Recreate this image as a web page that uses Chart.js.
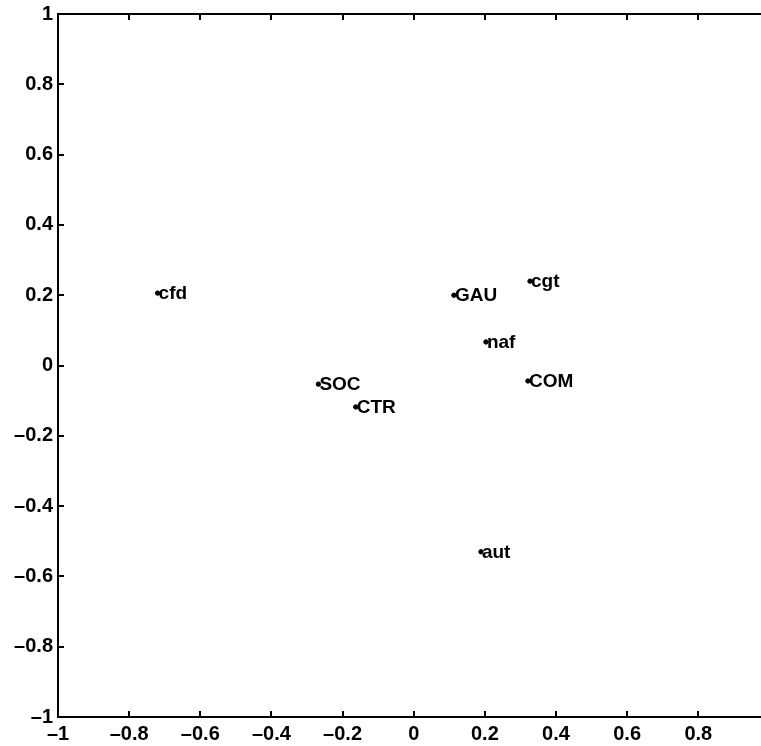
<!DOCTYPE html>
<html>
<head>
<meta charset="utf-8">
<script src="https://cdn.jsdelivr.net/npm/chart.js@4/dist/chart.umd.min.js"></script>
<style>
  html, body { margin: 0; padding: 0; background: #fff; overflow: hidden; }
  #wrap { width: 780px; height: 746px; }
</style>
</head>
<body>
<div id="wrap"><canvas id="myChart" width="780" height="746"></canvas></div>
<script>
// point labels and coordinates
var names = ['cfd', 'SOC', 'CTR', 'GAU', 'cgt', 'naf', 'COM', 'aut'];
var xs = [-0.72, -0.268, -0.163, 0.113, 0.327, 0.203, 0.321, 0.189];
var ys = [0.206, -0.053, -0.118, 0.200, 0.240, 0.067, -0.044, -0.530];

// tick values and their labels (same on both axes)
var tickVals = [-1, -0.8, -0.6, -0.4, -0.2, 0, 0.2, 0.4, 0.6, 0.8, 1];
var tickLabels = ['\u20131', '\u20130.8', '\u20130.6', '\u20130.4', '\u20130.2', '0', '0.2', '0.4', '0.6', '0.8', '1'];

var points = [];
for (var i = 0; i < names.length; i++) {
  points.push({ x: xs[i], y: ys[i] });
}

var tickFont = { family: '"Liberation Sans", Arial, sans-serif', size: 20, weight: 'bold' };

// box round the plot with inward ticks on all sides, like matlab
var boxPlugin = {
  id: 'box',
  afterDraw: function (chart) {
    var c = chart.ctx;
    var a = chart.chartArea;
    var xS = chart.scales.x, yS = chart.scales.y;
    c.save();
    c.strokeStyle = '#000';
    c.lineWidth = 2;
    c.strokeRect(a.left, a.top, a.right - a.left, a.bottom - a.top);
    tickVals.forEach(function (v) {
      var px = Math.round(xS.getPixelForValue(v));
      c.beginPath();
      c.moveTo(px, a.bottom); c.lineTo(px, a.bottom - 6);
      c.moveTo(px, a.top); c.lineTo(px, a.top + 6);
      c.stroke();
      var py = Math.round(yS.getPixelForValue(v));
      c.beginPath();
      c.moveTo(a.left, py); c.lineTo(a.left + 6, py);
      c.moveTo(a.right, py); c.lineTo(a.right - 6, py);
      c.stroke();
    });
    c.restore();
  }
};

// text label right of each dot
var labelPlugin = {
  id: 'pointLabels',
  afterDatasetsDraw: function (chart) {
    var c = chart.ctx;
    var meta = chart.getDatasetMeta(0);
    c.save();
    c.fillStyle = '#000';
    c.font = 'bold 19px "Liberation Sans", Arial, sans-serif';
    c.textAlign = 'left';
    c.textBaseline = 'middle';
    meta.data.forEach(function (el, i) {
      c.fillText(names[i], el.x + 1, el.y + 1);
    });
    c.restore();
  }
};

var ctx = document.getElementById('myChart');
var myChart = new Chart(ctx, {
  type: 'scatter',
  data: {
    datasets: [{
      data: points,
      backgroundColor: '#000',
      borderColor: '#000',
      pointRadius: 2.2,
      pointHoverRadius: 2.2
    }]
  },
  options: {
    responsive: false,
    animation: false,
    devicePixelRatio: 1,
    layout: { padding: { top: 14, right: 8, left: 0, bottom: 0 } },
    plugins: {
      legend: { display: false },
      tooltip: { enabled: false }
    },
    scales: {
      x: {
        type: 'linear',
        min: -1,
        max: 1,
        afterFit: function (s) { s.height = 29; },
        afterBuildTicks: function (s) { s.ticks = tickVals.map(function (v) { return { value: v }; }); },
        grid: { display: false, drawTicks: false },
        border: { display: false },
        ticks: {
          color: '#000',
          font: tickFont,
          padding: 5,
          maxRotation: 0,
          autoSkip: false,
          callback: function (v, idx) { return tickLabels[idx]; }
        }
      },
      y: {
        type: 'linear',
        min: -1,
        max: 1,
        afterFit: function (s) { s.width = 58; s.paddingTop = 0; s.paddingBottom = 0; },
        afterBuildTicks: function (s) { s.ticks = tickVals.map(function (v) { return { value: v }; }); },
        grid: { display: false, drawTicks: false },
        border: { display: false },
        ticks: {
          color: '#000',
          font: tickFont,
          padding: 5,
          autoSkip: false,
          callback: function (v, idx) { return tickLabels[idx]; }
        }
      }
    }
  },
  plugins: [boxPlugin, labelPlugin]
});
</script>
</body>
</html>
